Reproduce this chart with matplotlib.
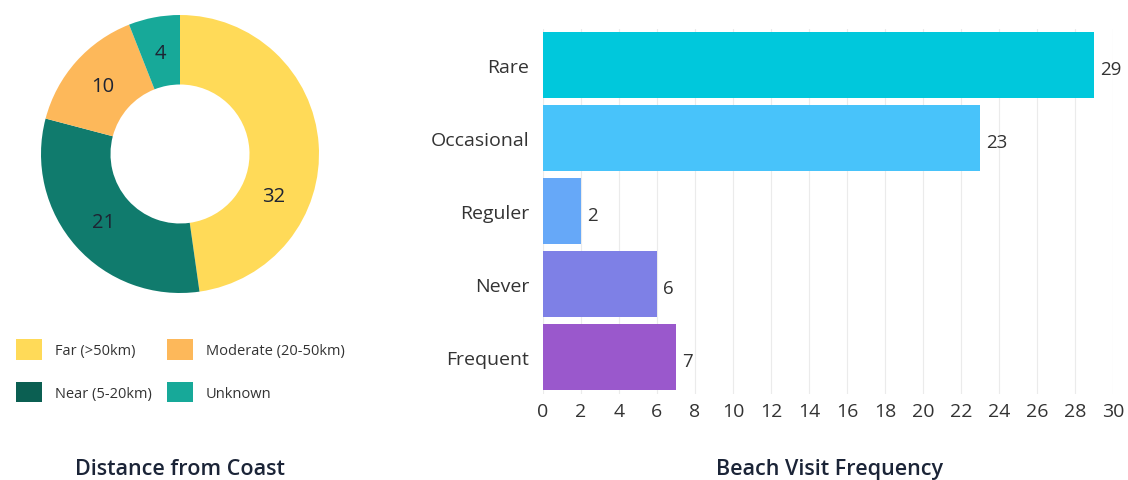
import matplotlib
matplotlib.use("Agg")
import numpy as np
import matplotlib.pyplot as plt
from matplotlib.patches import Patch

# distance from coast (donut)
dist_labels = ["Far (>50km)", "Near (5-20km)", "Moderate (20-50km)", "Unknown"]
dist_values = [32, 21, 10, 4]
dist_colors = ["#FFDA58", "#107B6D", "#FDB85A", "#17A999"]
legend_colors = ["#FFDA58", "#0B5F52", "#FDB85A", "#17A999"]

# beach visit frequency (bars)
freq_labels = ["Rare", "Occasional", "Reguler", "Never", "Frequent"]
freq_values = [29, 23, 2, 6, 7]
freq_colors = ["#00C8DC", "#48C3FA", "#66A8F8", "#7E80E6", "#9A58CC"]

plt.rcParams['font.family'] = ['Open Sans', 'DejaVu Sans']
text_col = "#333333"
title_col = "#1B2437"

W, H = 1128, 481
fig = plt.figure(figsize=(W / 100, H / 100), dpi=100)

# donut
cx, cy, r = 180, 155, 139
ax1 = fig.add_axes([(cx - r) / W, 1 - (cy + r) / H, 2 * r / W, 2 * r / H])
wedges, _, autotexts = ax1.pie(dist_values, colors=dist_colors, startangle=90,
                               counterclock=False, radius=1.0,
                               wedgeprops=dict(width=0.5, linewidth=0),
                               autopct=lambda p: f"{p * sum(dist_values) / 100:.0f}",
                               pctdistance=0.74)
for t in autotexts:
    t.set_fontsize(14.5)
    t.set_color("#1E2433")
# the big slice's label sits lower in the original
ang = np.deg2rad(-24)
autotexts[0].set_position((0.74 * np.cos(ang), 0.74 * np.sin(ang)))
ax1.set_xlim(-1, 1)
ax1.set_ylim(-1, 1)
ax1.set_aspect('equal')

# legend: Far, Moderate / Near, Unknown
handles = [Patch(facecolor=c, edgecolor='none') for c in legend_colors]
fig.legend(handles, dist_labels, ncol=2, loc='upper left',
           bbox_to_anchor=(3 / W, 1 - 327 / H), frameon=False,
           fontsize=10.5, handlelength=1.8, handleheight=1.8,
           handletextpad=0.85, labelspacing=1.5, columnspacing=1.05,
           labelcolor=text_col)

# bars
ax2 = fig.add_axes([543 / W, 1 - 394.5 / H, (1113 - 543) / W, 365 / H])
ypos = list(range(len(freq_labels)))
ax2.barh(ypos, freq_values, height=0.9, color=freq_colors, zorder=2)
for y, v in zip(ypos, freq_values):
    ax2.text(v + 0.3, y + 0.05, str(v), va='center', ha='left', fontsize=13.5, color=text_col)
ax2.set_xlim(0, 30)
ax2.set_ylim(len(freq_labels) - 0.5, -0.5)
ax2.set_yticks(ypos)
ax2.set_yticklabels(freq_labels)
ax2.set_xticks(range(0, 31, 2))
ax2.tick_params(length=0, labelsize=14, labelcolor=text_col)
ax2.tick_params(axis='y', pad=10)
ax2.tick_params(axis='x', pad=6)
ax2.grid(axis='x', color='#EBEBEB', linewidth=0.8, zorder=0)
for s in ax2.spines.values():
    s.set_visible(False)

fig.text(180 / W, 1 - 470 / H, "Distance from Coast", ha='center', va='center',
         fontsize=15.5, fontweight='semibold', color=title_col)
fig.text(830 / W, 1 - 470 / H, "Beach Visit Frequency", ha='center', va='center',
         fontsize=15.5, fontweight='semibold', color=title_col)

fig.savefig("out.png", dpi=100, facecolor='white')
